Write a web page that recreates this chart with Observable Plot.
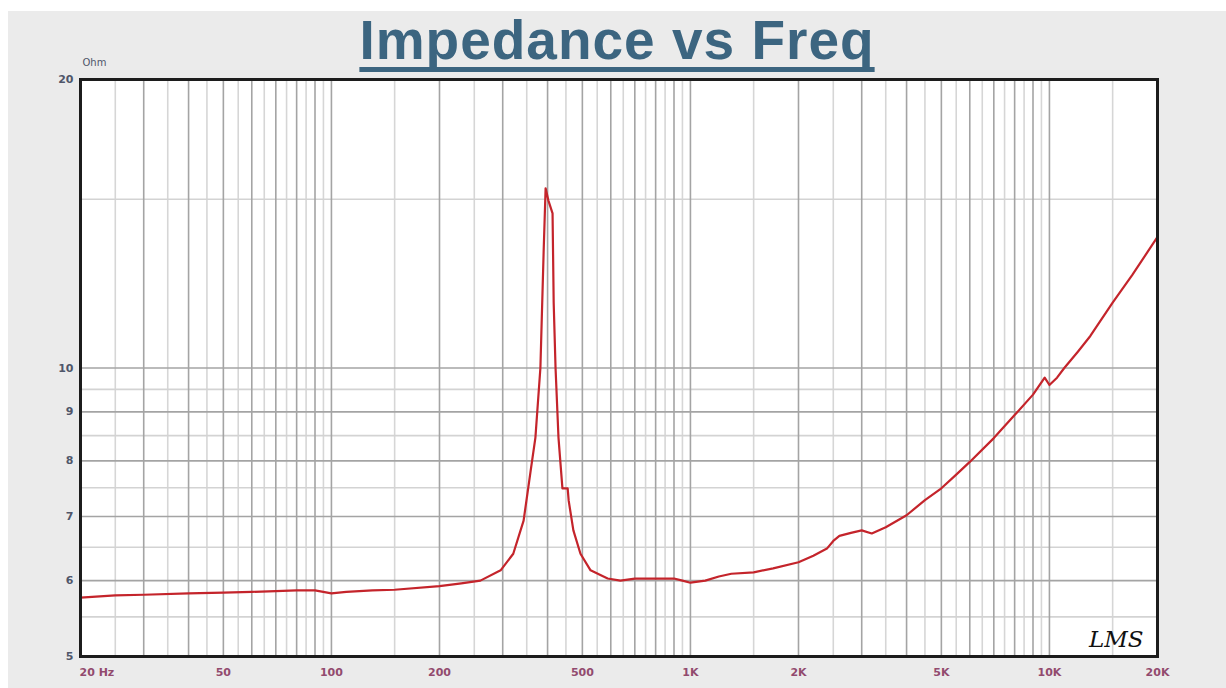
<!DOCTYPE html>
<html>
<head>
<meta charset="utf-8">
<script src="https://cdn.jsdelivr.net/npm/d3@7"></script>
<script src="https://cdn.jsdelivr.net/npm/@observablehq/plot@0.6"></script>
<style>
  html, body { margin: 0; padding: 0; background: #ffffff; width: 1226px; height: 688px; overflow: hidden; }
  #panel { position: absolute; left: 8px; top: 11px; width: 1218px; height: 677px; background: #ebebeb; }
  #title {
    position: absolute; left: 8px; top: 13px; width: 1218px; text-align: center;
    font-family: "Liberation Sans", Arial, sans-serif; font-weight: bold; font-size: 55px; line-height: 55px;
    letter-spacing: 1px; color: #3c6580;
    text-decoration: underline; text-decoration-thickness: 5px; text-underline-offset: 8px;
    text-decoration-skip-ink: none;
  }
  #chart { position: absolute; left: 0; top: 50px; }
  #chart svg { background: transparent; }
</style>
</head>
<body>
<div id="panel"></div>
<div id="title">Impedance vs Freq</div>
<div id="chart"></div>
<script>
const freqHz = [20, 25, 30, 40, 50, 60, 70, 80, 90, 100, 110, 130, 150, 200, 230, 260, 296, 321, 343, 359, 370, 382, 390, 395, 402, 413, 416, 421, 429, 440, 455, 458, 472, 494, 527, 588, 638, 700, 800, 900, 950, 1000, 1100, 1200, 1300, 1500, 1700, 2000, 2200, 2400, 2500, 2600, 2800, 3000, 3200, 3500, 4000, 4500, 5000, 5500, 6000, 7000, 8000, 9000, 9700, 10000, 10500, 11000, 12000, 13000, 15000, 17000, 20000];
const impedanceOhm = [5.76, 5.79, 5.80, 5.82, 5.83, 5.84, 5.85, 5.86, 5.86, 5.82, 5.84, 5.86, 5.87, 5.92, 5.96, 6.00, 6.15, 6.40, 6.93, 7.82, 8.46, 10.0, 13.2, 15.4, 14.96, 14.5, 11.7, 10.0, 8.46, 7.49, 7.49, 7.27, 6.77, 6.40, 6.15, 6.03, 6.00, 6.03, 6.03, 6.03, 6.00, 5.97, 6.00, 6.06, 6.10, 6.12, 6.18, 6.27, 6.37, 6.48, 6.60, 6.68, 6.73, 6.77, 6.72, 6.82, 7.02, 7.28, 7.49, 7.74, 7.98, 8.45, 8.93, 9.38, 9.77, 9.60, 9.77, 10.0, 10.4, 10.8, 11.7, 12.5, 13.7];

const xTickValues = [20, 50, 100, 200, 500, 1000, 2000, 5000, 10000, 20000];
const xTickLabels = ["20 Hz", "50", "100", "200", "500", "1K", "2K", "5K", "10K", "20K"];
const yTickValues = [5, 6, 7, 8, 9, 10, 20];
const yTickLabels = ["5", "6", "7", "8", "9", "10", "20"];

const xGridMajor = [30, 40, 50, 60, 70, 80, 90, 100, 200, 300, 400, 500, 600, 700, 800, 900, 1000, 2000, 3000, 4000, 5000, 6000, 7000, 8000, 9000, 10000];
const xGridMinor = [25, 35, 45, 55, 65, 75, 85, 95, 150, 250, 350, 450, 550, 650, 750, 850, 950, 1500, 2500, 3500, 4500, 5500, 6500, 7500, 8500, 9500, 15000];
const yGridMajor = [6, 7, 8, 9, 10];
const yGridMinor = [5.5, 6.5, 7.5, 8.5, 9.5, 15];

const data = freqHz.map((f, i) => ({f, z: impedanceOhm[i]}));
const xTicks = xTickValues.map((v, i) => ({v, label: xTickLabels[i]}));
const yTicks = yTickValues.map((v, i) => ({v, label: yTickLabels[i]}));

const chart = Plot.plot({
  width: 1226,
  height: 638,
  marginTop: 29,
  marginBottom: 32,
  marginLeft: 80,
  marginRight: 69,
  style: {fontFamily: "'DejaVu Sans', sans-serif", fontSize: "11px", fontWeight: "bold", background: "transparent"},
  x: {type: "log", domain: [20, 20000], axis: null},
  y: {type: "log", domain: [5, 20], axis: null},
  marks: [
    Plot.frame({fill: "white", stroke: "none"}),
    Plot.ruleX(xGridMinor, {stroke: "#d6d6d6", strokeWidth: 1.6}),
    Plot.ruleY(yGridMinor, {stroke: "#d3d3d3", strokeWidth: 1.6}),
    Plot.ruleX(xGridMajor, {stroke: "#a4a4a4", strokeWidth: 1.6}),
    Plot.ruleY(yGridMajor, {stroke: "#a4a4a4", strokeWidth: 1.6}),
    Plot.line(data, {x: "f", y: "z", stroke: "#c4242b", strokeWidth: 2.2}),
    Plot.frame({stroke: "#1c1c1c", strokeWidth: 3}),
    Plot.text(xTicks.slice(1), {x: "v", text: "label", frameAnchor: "bottom", dy: 16, lineAnchor: "middle", textAnchor: "middle", fill: "#924a6e"}),
    Plot.text(xTicks.slice(0, 1), {x: "v", text: "label", frameAnchor: "bottom", dy: 16, dx: -1, lineAnchor: "middle", textAnchor: "start", fill: "#924a6e"}),
    Plot.text(yTicks, {y: "v", text: "label", frameAnchor: "left", dx: -7, lineAnchor: "middle", textAnchor: "end", fill: "#4f566a"}),
    Plot.text(["Ohm"], {frameAnchor: "top-left", dx: 2, dy: -17, textAnchor: "start", lineAnchor: "middle", fill: "#4f566a", fontSize: 10, fontWeight: "normal"}),
    Plot.text(["LMS"], {frameAnchor: "bottom-right", dx: -14, dy: -10, textAnchor: "end", lineAnchor: "bottom", fill: "#111", fontSize: 23, fontStyle: "italic", fontWeight: "normal", fontFamily: "'DejaVu Serif', serif"})
  ]
});
document.getElementById("chart").appendChild(chart);
</script>
</body>
</html>
